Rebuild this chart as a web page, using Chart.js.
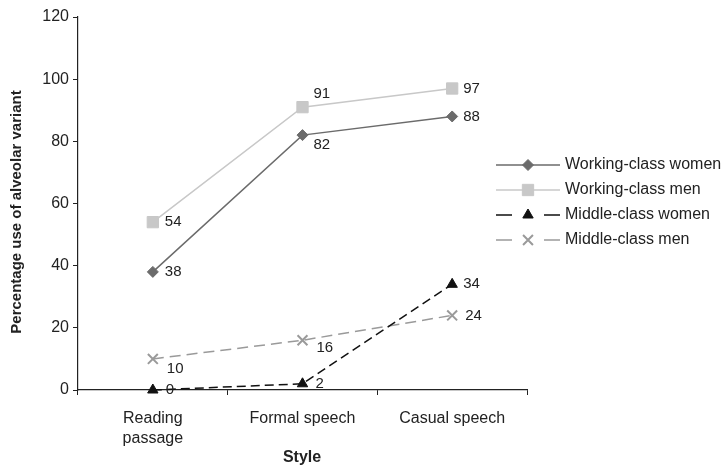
<!DOCTYPE html>
<html>
<head>
<meta charset="utf-8">
<script src="https://cdn.jsdelivr.net/npm/chart.js@4.4.1/dist/chart.umd.min.js"></script>
<style>
  html, body { margin: 0; padding: 0; background: #fff; }
</style>
</head>
<body>
<canvas id="styleChart" width="728" height="475"></canvas>
<script>
// Data
const styles = [['Reading', 'passage'], 'Formal speech', 'Casual speech'];
const workingWomen = [38, 82, 88];
const workingMen = [54, 91, 97];
const middleWomen = [0, 2, 34];
const middleMen = [10, 16, 24];
const seriesNames = ['Working-class women', 'Working-class men', 'Middle-class women', 'Middle-class men'];

// where each value label sits relative to its point [dx, dy]
const labelNudge = [
  [[12, 0], [11, 10], [11, 0]],
  [[12, 0], [11, -13], [11, 0]],
  [[13, 0], [13, 0], [11, 0]],
  [[14, 10], [14, 8], [13, 0]]
];

const FONT = '"Liberation Sans", Arial, Helvetica, sans-serif';
const textColor = '#222';

// value labels next to points
const valueLabels = {
  id: 'valueLabels',
  afterDatasetsDraw(chart) {
    const ctx = chart.ctx;
    ctx.save();
    ctx.font = '15px ' + FONT;
    ctx.fillStyle = textColor;
    ctx.textAlign = 'left';
    ctx.textBaseline = 'middle';
    chart.data.datasets.forEach((ds, i) => {
      chart.getDatasetMeta(i).data.forEach((pt, j) => {
        const n = labelNudge[i][j];
        ctx.fillText(String(ds.data[j]), pt.x + n[0], pt.y + n[1]);
      });
    });
    ctx.restore();
  }
};

// legend with line + marker samples, plus the axis titles
const sideLegend = {
  id: 'sideLegend',
  afterDraw(chart) {
    const ctx = chart.ctx;
    ctx.save();
    const x0 = 496, x1 = 560, yStart = 165, step = 25;
    chart.data.datasets.forEach((ds, i) => {
      const y = yStart + i * step;
      const mid = (x0 + x1) / 2;
      ctx.strokeStyle = ds.borderColor;
      ctx.lineWidth = 1.5;
      ctx.beginPath();
      if (ds.borderDash) {
        ctx.moveTo(x0, y); ctx.lineTo(x0 + 16, y);
        ctx.moveTo(x1 - 16, y); ctx.lineTo(x1, y);
      } else {
        ctx.moveTo(x0, y); ctx.lineTo(x1, y);
      }
      ctx.stroke();
      ctx.fillStyle = ds.pointBackgroundColor;
      ctx.strokeStyle = ds.pointBorderColor;
      ctx.lineWidth = ds.pointBorderWidth;
      Chart.helpers.drawPoint(ctx, {
        pointStyle: ds.pointStyle,
        radius: ds.pointRadius,
        borderWidth: ds.pointBorderWidth,
        rotation: 0
      }, mid, y);
      ctx.fillStyle = textColor;
      ctx.font = '16px ' + FONT;
      ctx.textAlign = 'left';
      ctx.textBaseline = 'middle';
      ctx.fillText(ds.label, 565, y);
    });

    ctx.fillStyle = textColor;
    ctx.textAlign = 'center';
    ctx.textBaseline = 'middle';
    ctx.font = 'bold 16px ' + FONT;
    ctx.fillText('Style', 302, 458);
    ctx.font = 'bold 15px ' + FONT;
    ctx.translate(17, 212);
    ctx.rotate(-Math.PI / 2);
    ctx.fillText('Percentage use of alveolar variant', 0, 0);
    ctx.restore();
  }
};

const ctx = document.getElementById('styleChart').getContext('2d');

new Chart(ctx, {
  type: 'line',
  data: {
    labels: styles,
    datasets: [
      {
        label: seriesNames[0],
        data: workingWomen,
        borderColor: '#6b6b6b',
        borderWidth: 1.5,
        pointStyle: 'rectRot',
        pointRadius: 5.5,
        pointBackgroundColor: '#6b6b6b',
        pointBorderColor: '#6b6b6b',
        pointBorderWidth: 1
      },
      {
        label: seriesNames[1],
        data: workingMen,
        borderColor: '#c8c8c8',
        borderWidth: 1.5,
        pointStyle: 'rect',
        pointRadius: 8,
        pointBackgroundColor: '#c8c8c8',
        pointBorderColor: '#c8c8c8',
        pointBorderWidth: 1
      },
      {
        label: seriesNames[2],
        data: middleWomen,
        borderColor: '#111111',
        borderWidth: 1.5,
        borderDash: [9, 5],
        pointStyle: 'triangle',
        pointRadius: 6,
        pointBackgroundColor: '#111111',
        pointBorderColor: '#111111',
        pointBorderWidth: 1
      },
      {
        label: seriesNames[3],
        data: middleMen,
        borderColor: '#9a9a9a',
        borderWidth: 1.5,
        borderDash: [11, 6],
        pointStyle: 'crossRot',
        pointRadius: 7,
        pointBackgroundColor: '#9a9a9a',
        pointBorderColor: '#9a9a9a',
        pointBorderWidth: 2
      }
    ]
  },
  options: {
    responsive: false,
    animation: false,
    devicePixelRatio: 1,
    clip: false,
    layout: { padding: { top: 17, right: 201, left: 0, bottom: 0 } },
    elements: { line: { tension: 0 } },
    scales: {
      x: {
        offset: true,
        afterFit: s => { s.height = 85; },
        grid: { offset: true, drawOnChartArea: false, drawTicks: true, tickLength: 5, color: '#222' },
        border: { display: true, color: '#222', width: 1.2 },
        ticks: { color: textColor, font: { family: FONT, size: 16, lineHeight: 1.25 }, padding: 14, maxRotation: 0 }
      },
      y: {
        min: 0,
        max: 120,
        afterFit: s => { s.width = 78; },
        grid: { drawOnChartArea: false, drawTicks: true, tickLength: 5, color: '#222' },
        border: { display: true, color: '#222', width: 1.2 },
        ticks: { stepSize: 20, color: textColor, font: { family: FONT, size: 16 }, padding: 4 }
      }
    },
    plugins: {
      legend: { display: false },
      tooltip: { enabled: false }
    }
  },
  plugins: [valueLabels, sideLegend]
});
</script>
</body>
</html>
